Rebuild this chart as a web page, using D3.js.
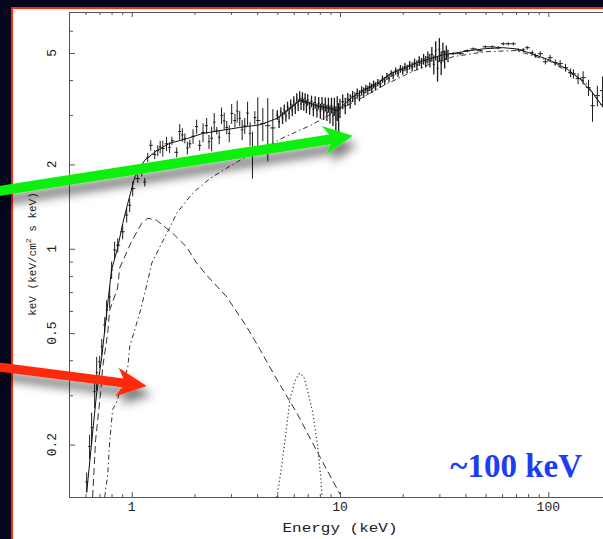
<!DOCTYPE html>
<html>
<head>
<meta charset="utf-8">
<title>Broadband spectrum</title>
<script src="https://d3js.org/d3.v7.min.js"></script>
<style>
    body { margin: 0; background: #03061d; }
    svg { display: block; }
</style>
</head>
<body>
<svg id="chart" width="603" height="539"></svg>
<script>
    // observed spectrum, 0.6 - 5 keV (energy keV, flux, 1 sigma error)
    var lowE = [0.608,0.628,0.642,0.664,0.679,0.702,0.718,0.742,0.758,0.784,
                0.801,0.828,0.857,0.905,0.946,0.978,1.011,1.069,1.117,1.155,
                1.194,1.234,1.290,
                1.334,1.37,1.41,1.47,1.52,1.56,1.645,1.70,1.75,1.80,
                1.85,1.90,1.97,2.05,2.12,2.20,2.29,2.35,2.42,2.49,
                2.56,2.63,2.70,2.78,2.86,2.94,3.02,3.13,3.21,3.30,
                3.39,3.49,3.60,3.70,3.80,3.90,4.03,4.26,4.50,4.76];
    var lowF = [0.147,0.197,0.230,0.309,0.361,0.395,0.447,0.535,0.605,0.673,
                0.84,0.99,1.03,1.15,1.32,1.43,1.64,1.78,1.90,1.73,
                2.12,2.34,2.17,
                2.24,2.31,2.28,2.37,2.30,2.43,2.21,2.62,2.55,2.48,
                2.29,2.37,2.52,2.73,2.34,2.60,2.75,2.41,2.48,2.83,
                2.64,2.50,2.99,2.86,2.71,2.58,3.04,2.87,3.10,2.92,
                2.66,2.75,3.05,2.58,2.20,2.94,2.87,2.80,2.75,2.70];
    var lowErr = [0.012,0.02,0.03,0.04,0.05,0.02,0.03,0.035,0.05,0.06,
                  0.06,0.07,0.06,0.07,0.08,0.08,0.1,0.06,0.09,0.06,
                  0.08,0.1,0.08,
                  0.1,0.12,0.15,0.14,0.1,0.08,0.09,0.17,0.14,0.1,
                  0.12,0.08,0.15,0.16,0.1,0.2,0.18,0.14,0.25,0.22,
                  0.08,0.14,0.2,0.2,0.15,0.18,0.25,0.16,0.28,0.18,
                  0.22,0.18,0.3,0.25,0.42,0.16,0.6,0.38,0.7,0.45];

    // observed spectrum, 5 - 33 keV
    var midE = [5.0,5.1,5.2,5.3,5.4,5.5,5.6,5.7,5.8,5.9,
                6.0,6.1,6.2,6.3,6.4,6.5,6.6,6.7,6.8,6.9,
                7.0,7.15,7.3,7.45,7.6,7.75,7.9,8.05,8.2,8.35,
                8.5,8.65,8.8,8.95,9.1,9.25,9.4,9.55,9.7,9.85,
                10.0,10.3,10.6,10.9,11.2,11.5,11.8,12.1,12.4,12.7,
                13.0,13.3,13.6,13.9,14.2,14.5,14.8,15.2,15.6,16.0,
                16.4,16.8,17.2,17.6,18.0,18.5,19.0,19.5,20.0,20.5,
                21.0,21.6,22.2,22.8,23.4,24.0,24.6,25.2,25.8,26.4,
                27.0,27.6,28.2,28.8,29.4,30.0,30.6,31.2,31.8,32.4,33.0];
    var midF = [3.00,2.84,3.08,2.93,3.14,2.98,3.22,3.05,3.28,3.12,
                3.36,3.18,3.45,3.26,3.50,3.29,3.47,3.27,3.44,3.22,
                3.40,3.18,3.36,3.15,3.33,3.12,3.31,3.10,3.30,3.08,
                3.28,3.06,3.26,3.02,3.25,2.98,3.22,2.92,3.18,2.95,
                3.18,3.35,3.24,3.42,3.36,3.50,3.44,3.58,3.52,3.66,
                3.61,3.72,3.68,3.79,3.74,3.86,3.80,3.92,3.88,4.03,
                3.97,4.12,4.06,4.22,4.16,4.31,4.24,4.39,4.33,4.45,
                4.38,4.52,4.46,4.60,4.53,4.68,4.60,4.75,4.66,4.82,
                4.70,4.95,4.55,5.10,4.40,5.15,4.62,5.05,4.75,5.02,4.88];
    var midErr = [0.12,0.14,0.12,0.14,0.13,0.14,0.13,0.15,0.13,0.15,
                  0.14,0.15,0.14,0.16,0.15,0.16,0.15,0.16,0.15,0.17,
                  0.16,0.17,0.16,0.18,0.17,0.18,0.17,0.19,0.18,0.2,
                  0.19,0.2,0.2,0.22,0.21,0.24,0.24,0.3,0.32,0.36,
                  0.25,0.2,0.22,0.18,0.2,0.16,0.18,0.15,0.16,0.14,
                  0.15,0.13,0.14,0.13,0.14,0.12,0.13,0.12,0.13,0.12,
                  0.13,0.12,0.13,0.12,0.13,0.13,0.14,0.14,0.15,0.15,
                  0.16,0.16,0.17,0.17,0.18,0.19,0.2,0.21,0.22,0.24,
                  0.26,0.3,0.36,0.4,0.45,0.5,0.45,0.4,0.35,0.3,0.25];

    // observed spectrum, 35 - 180 keV
    var highE = [34.9,37.8,40.8,43.6,47.1,49.8,53.8,57.5,60.8,64.2,
                 67.9,71.8,75.8,79.2,83.8,86.6,91.5,96.8,102,108,
                 114,121,128,132,139,147,156,163,172,182];
    var highF = [4.97,4.97,5.09,5.17,5.09,5.26,5.26,5.22,5.39,5.39,
                 5.39,5.13,5.13,5.22,5.01,4.89,4.97,4.65,4.81,4.62,
                 4.58,4.43,4.25,4.21,4.05,4.08,3.76,3.24,3.52,3.67];
    var highErr = [0.06,0.06,0.06,0.06,0.06,0.06,0.06,0.07,0.07,0.07,
                   0.07,0.07,0.08,0.08,0.09,0.09,0.1,0.1,0.11,0.12,
                   0.13,0.14,0.15,0.16,0.18,0.22,0.25,0.4,0.3,0.45];

    // best-fit model and its components
    var totalE = [0.608,0.642,0.679,0.718,0.758,0.80,0.857,0.905,0.957,1.034,
                  1.155,1.318,1.523,1.838,2.19,2.65,3.30,4.13,4.98,5.75,
                  6.43,6.9,7.75,8.95,9.67,10.2,11.2,12.9,15.1,17.4,
                  20.1,23.4,27.1,31.3,34.9,42.2,50,60.7,70,82,
                  101,123,142,164,184,200];
    var totalF = [0.135,0.203,0.306,0.41,0.59,0.84,1.01,1.23,1.45,1.80,
                  2.07,2.24,2.38,2.47,2.58,2.64,2.71,2.77,2.92,3.17,
                  3.38,3.34,3.24,3.17,3.11,3.22,3.43,3.67,3.88,4.21,
                  4.39,4.61,4.77,4.93,4.98,5.10,5.18,5.22,5.17,4.99,
                  4.72,4.38,4.04,3.58,3.19,2.95];
    var diskE = [0.649,0.671,0.709,0.725,0.767,0.784,0.856,0.875,0.989,1.057,
                 1.117,1.194,1.318,1.409,1.574,1.838,2.05,2.29,2.86,3.57,
                 4.13,4.98,6.21,8.0,10.0];
    var diskF = [0.13,0.208,0.306,0.376,0.50,0.604,0.724,0.853,1.047,1.146,
                 1.233,1.285,1.264,1.213,1.136,1.013,0.889,0.805,0.673,0.526,
                 0.437,0.341,0.259,0.181,0.133];
    var compE = [0.742,0.767,0.784,0.810,0.847,0.957,0.978,1.093,1.181,1.248,
                 1.363,1.523,1.645,1.963,2.37,2.86,3.42,4.13,5.32,7.18,
                 9.67,12.5,16.1,21.7,27.0,35,50,70,100,150,200];
    var compF = [0.13,0.156,0.205,0.267,0.284,0.376,0.447,0.590,0.742,0.889,
                 1.013,1.19,1.34,1.58,1.78,1.94,2.10,2.24,2.49,2.75,
                 3.11,3.43,3.82,4.25,4.56,4.85,5.05,5.1,4.7,3.95,2.9];
    var lineE = [4.98,5.2,5.5,5.75,6.1,6.4,6.7,7.0,7.4,7.8,8.1,8.2];
    var lineF = [0.13,0.16,0.22,0.29,0.34,0.36,0.35,0.31,0.26,0.20,0.15,0.13];

    // axis ticks
    var xTicks = [1, 10, 100];
    var xTickLabels = ["1", "10", "100"];
    var xMinor = [0.6,0.7,0.8,0.9,2,3,4,5,6,7,8,9,20,30,40,50,60,70,80,90,200];
    var yTicks = [0.2, 0.5, 1, 2, 5];
    var yTickLabels = ["0.2", "0.5", "1", "2", "5"];
    var yMinor = [0.3,0.4,0.6,0.7,0.8,0.9,3,4,6,7];

    // annotation arrows, [energy, flux] of tail and tip
    var greenArrow = [[0.22, 1.60], [11.5, 2.53]];
    var redArrow = [[0.22, 0.38], [1.18, 0.324]];

    var svg = d3.select("#chart");
    var x = d3.scaleLog().domain([0.5, 200]).range([69, 611]);
    var y = d3.scaleLog().domain([0.13, 7]).range([497, 12]);

    var defs = svg.append("defs");
    defs.append("clipPath").attr("id", "plotclip")
        .append("rect").attr("x", 69).attr("y", 12).attr("width", 542).attr("height", 485);
    defs.append("filter").attr("id", "shadow")
        .attr("x", "-30%").attr("y", "-100%").attr("width", "160%").attr("height", "300%")
        .append("feDropShadow")
        .attr("dx", 5).attr("dy", 9).attr("stdDeviation", 5)
        .attr("flood-color", "#000").attr("flood-opacity", 0.5);

    // white panel with red edge
    svg.append("rect").attr("x", 12).attr("y", 8).attr("width", 700).attr("height", 700)
        .attr("fill", "white").attr("stroke", "#ff2a0c").attr("stroke-width", 2);

    // axes
    var axisColor = "#555";
    function styleAxis(g) {
        g.select(".domain").attr("stroke", axisColor);
        g.selectAll(".tick line").attr("stroke", axisColor);
    }
    svg.append("g").attr("transform", "translate(0,497)")
        .call(d3.axisBottom(x).tickValues(xTicks).tickSize(-5).tickSizeOuter(0).tickFormat(""))
        .call(styleAxis);
    svg.append("g").attr("transform", "translate(0,497)")
        .call(d3.axisBottom(x).tickValues(xMinor).tickSize(-3).tickSizeOuter(0).tickFormat(""))
        .call(styleAxis);
    svg.append("g").attr("transform", "translate(0,12)")
        .call(d3.axisTop(x).tickValues(xTicks).tickSize(-5).tickSizeOuter(0).tickFormat(""))
        .call(styleAxis);
    svg.append("g").attr("transform", "translate(0,12)")
        .call(d3.axisTop(x).tickValues(xMinor).tickSize(-3).tickSizeOuter(0).tickFormat(""))
        .call(styleAxis);
    svg.append("g").attr("transform", "translate(69,0)")
        .call(d3.axisLeft(y).tickValues(yTicks).tickSize(-6).tickSizeOuter(0).tickFormat(""))
        .call(styleAxis);
    svg.append("g").attr("transform", "translate(69,0)")
        .call(d3.axisLeft(y).tickValues(yMinor).tickSize(-4).tickSizeOuter(0).tickFormat(""))
        .call(styleAxis);
    svg.append("g").attr("transform", "translate(611,0)")
        .call(d3.axisRight(y).tickValues(yTicks).tickSize(-6).tickSizeOuter(0).tickFormat(""))
        .call(styleAxis);

    var mono = "'Liberation Mono', 'DejaVu Sans Mono', monospace";
    svg.selectAll(".xlabel").data(xTicks).enter().append("text")
        .attr("class", "xlabel")
        .attr("x", function (d) { return x(d); })
        .attr("y", 511)
        .attr("text-anchor", "middle")
        .attr("font-family", mono).attr("font-size", 13).attr("fill", "#222")
        .text(function (d, i) { return xTickLabels[i]; });
    svg.selectAll(".ylabel").data(yTicks).enter().append("text")
        .attr("class", "ylabel")
        .attr("transform", function (d) { return "translate(56," + y(d) + ") rotate(-90)"; })
        .attr("text-anchor", "middle")
        .attr("font-family", mono).attr("font-size", 13).attr("fill", "#222")
        .text(function (d, i) { return yTickLabels[i]; });

    svg.append("text")
        .attr("x", 340).attr("y", 532)
        .attr("text-anchor", "middle")
        .attr("font-family", mono).attr("font-size", 13).attr("fill", "#222")
        .attr("textLength", 115).attr("lengthAdjust", "spacingAndGlyphs")
        .text("Energy (keV)");

    var ytitle = svg.append("text")
        .attr("transform", "translate(36,254) rotate(-90)")
        .attr("text-anchor", "middle")
        .attr("font-family", mono).attr("font-size", 11).attr("fill", "#222");
    ytitle.append("tspan").text("keV (keV/cm");
    ytitle.append("tspan").attr("dy", -5).attr("font-size", 8).text("2");
    ytitle.append("tspan").attr("dy", 5).text(" s keV)");

    // plot contents
    var plot = svg.append("g").attr("clip-path", "url(#plotclip)");

    function pairs(es, fs) {
        return es.map(function (e, i) { return [e, fs[i]]; });
    }
    var line = d3.line()
        .x(function (d) { return x(d[0]); })
        .y(function (d) { return y(d[1]); });

    function drawData(es, fs, errs, width) {
        var pts = es.map(function (e, i) {
            var lo = i > 0 ? Math.sqrt(es[i - 1] * e) : e * e / Math.sqrt(es[i + 1] * e);
            var hi = i < es.length - 1 ? Math.sqrt(es[i + 1] * e) : e * e / Math.sqrt(es[i - 1] * e);
            return {e: e, f: fs[i], err: errs[i], lo: lo, hi: hi};
        });
        var g = plot.append("g").attr("stroke", "#1c1c1c").attr("stroke-width", width);
        g.selectAll(".ebar").data(pts).enter().append("line")
            .attr("x1", function (d) { return x(d.e); })
            .attr("x2", function (d) { return x(d.e); })
            .attr("y1", function (d) { return y(d.f - d.err); })
            .attr("y2", function (d) { return y(d.f + d.err); });
        g.selectAll(".hbar").data(pts).enter().append("line")
            .attr("x1", function (d) { return x(d.lo); })
            .attr("x2", function (d) { return x(d.hi); })
            .attr("y1", function (d) { return y(d.f); })
            .attr("y2", function (d) { return y(d.f); });
    }

    plot.append("path").datum(pairs(diskE, diskF)).attr("d", line)
        .attr("fill", "none").attr("stroke", "#333").attr("stroke-width", 1)
        .attr("stroke-dasharray", "7,4");
    plot.append("path").datum(pairs(compE, compF)).attr("d", line)
        .attr("fill", "none").attr("stroke", "#333").attr("stroke-width", 1)
        .attr("stroke-dasharray", "5,3,1.5,3");
    plot.append("path").datum(pairs(lineE, lineF)).attr("d", line)
        .attr("fill", "none").attr("stroke", "#333").attr("stroke-width", 1.2)
        .attr("stroke-dasharray", "1.2,2.6");

    drawData(lowE, lowF, lowErr, 1);
    drawData(midE, midF, midErr, 1.3);
    drawData(highE, highF, highErr, 1);

    plot.append("path").datum(pairs(totalE, totalF)).attr("d", line)
        .attr("fill", "none").attr("stroke", "#111").attr("stroke-width", 1);

    // annotation
    svg.append("text")
        .attr("x", 582).attr("y", 477)
        .attr("text-anchor", "end")
        .attr("font-family", "'Liberation Serif', 'DejaVu Serif', serif")
        .attr("font-weight", "bold").attr("font-size", 33)
        .attr("fill", "#1d3cf5")
        .text("~100 keV");

    function arrowPoints(a, w, len, half, notch) {
        var x0 = x(a[0][0]), y0 = y(a[0][1]), x1 = x(a[1][0]), y1 = y(a[1][1]);
        var dx = x1 - x0, dy = y1 - y0, n = Math.sqrt(dx * dx + dy * dy);
        var ux = dx / n, uy = dy / n, nx = -uy, ny = ux;
        var bx = x1 - ux * len, by = y1 - uy * len;
        var jx = x1 - ux * (len - notch), jy = y1 - uy * (len - notch);
        return [
            [x0 + nx * w, y0 + ny * w],
            [jx + nx * w, jy + ny * w],
            [bx + nx * half, by + ny * half],
            [x1, y1],
            [bx - nx * half, by - ny * half],
            [jx - nx * w, jy - ny * w],
            [x0 - nx * w, y0 - ny * w]
        ].map(function (p) { return p.join(","); }).join(" ");
    }
    svg.append("polygon")
        .attr("points", arrowPoints(greenArrow, 5, 29, 14.5, 6))
        .attr("fill", "#10f010").attr("filter", "url(#shadow)");
    svg.append("polygon")
        .attr("points", arrowPoints(redArrow, 4.5, 30, 14.5, 6))
        .attr("fill", "#ff2a08").attr("filter", "url(#shadow)");
</script>
</body>
</html>
